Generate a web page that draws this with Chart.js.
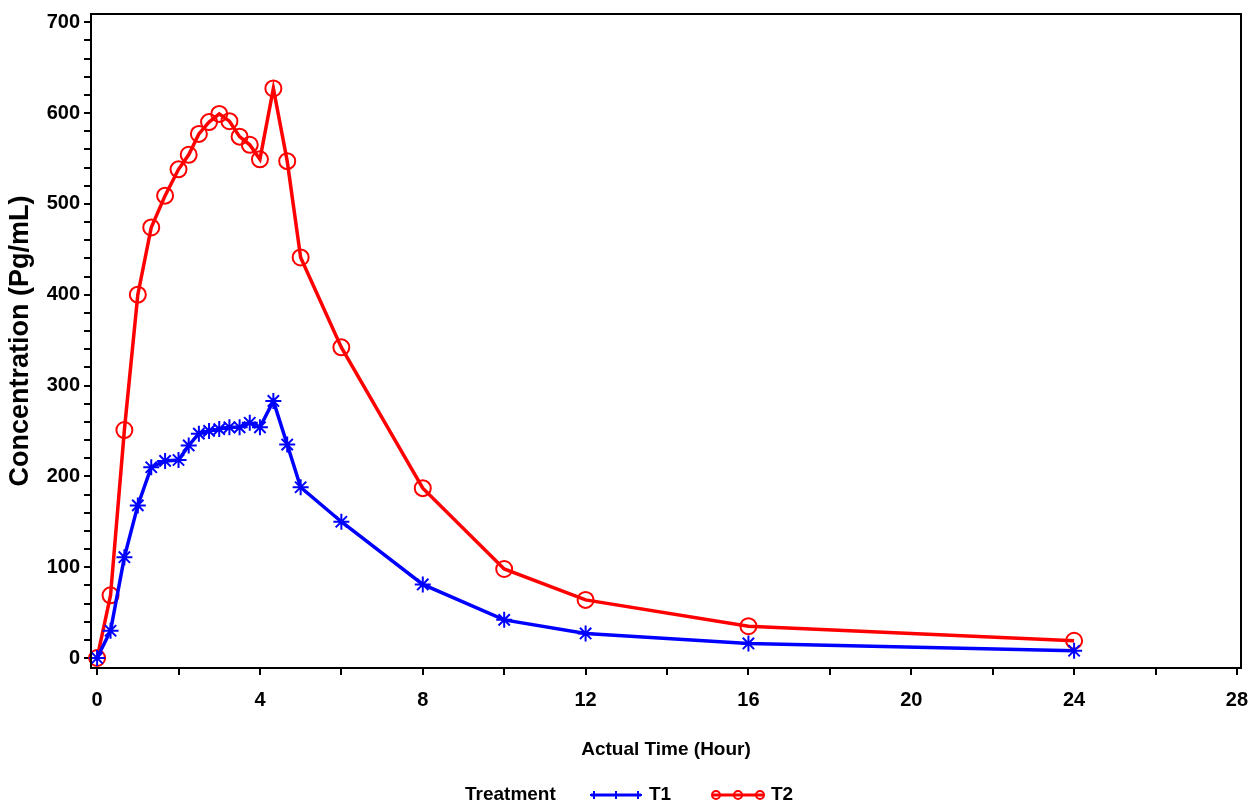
<!DOCTYPE html>
<html>
<head>
<meta charset="utf-8">
<script src="https://cdn.jsdelivr.net/npm/chart.js@4/dist/chart.umd.min.js"></script>
<style>
  html, body { margin: 0; padding: 0; background: #fff; }
  canvas { display: block; }
</style>
</head>
<body>
<canvas id="pkChart" width="1254" height="808"></canvas>
<script>
const times = [0, 0.33, 0.67, 1, 1.33, 1.67, 2, 2.25, 2.5, 2.75, 3, 3.25, 3.5, 3.75, 4, 4.33, 4.67, 5, 6, 8, 10, 12, 16, 24];
const t1Conc = [0, 30, 111, 168, 210, 217, 218, 234, 247, 250, 252, 254, 254, 259, 254, 283, 235, 188, 150, 81, 42, 27, 16, 8];
const t2Conc = [0, 69, 251, 400, 474, 509, 538, 554, 577, 590, 599, 591, 574, 565, 549, 627, 547, 441, 342, 187, 98, 64, 35, 19];
const xTicks = [0, 2, 4, 6, 8, 10, 12, 14, 16, 18, 20, 22, 24, 26, 28];
const yTicks = [0, 20, 40, 60, 80, 100, 120, 140, 160, 180, 200, 220, 240, 260, 280, 300, 320, 340, 360, 380, 400,
                420, 440, 460, 480, 500, 520, 540, 560, 580, 600, 620, 640, 660, 680, 700];
const legendTitle = "Treatment";

const sans = "'Liberation Sans', Arial, sans-serif";

function toPoints(ys) {
    return times.map((t, i) => ({ x: t, y: ys[i] }));
}

// box round the plot area + legend line at the bottom
const framePlugin = {
    id: "frame",
    afterDraw(chart) {
        const ctx = chart.ctx;
        const a = chart.chartArea;
        ctx.save();
        ctx.strokeStyle = "#000";
        ctx.lineWidth = 2;
        ctx.strokeRect(a.left, a.top, a.right - a.left, a.bottom - a.top);

        const y = 795;
        ctx.font = "bold 19px " + sans;
        ctx.fillStyle = "#000";
        ctx.textBaseline = "middle";
        ctx.textAlign = "left";
        ctx.fillText(legendTitle, 465, y);

        const items = [
            { ds: chart.data.datasets[0], x: 591 },
            { ds: chart.data.datasets[1], x: 713 }
        ];
        items.forEach(it => {
            const c = it.ds.borderColor;
            ctx.strokeStyle = c;
            ctx.lineWidth = 3;
            ctx.beginPath();
            ctx.moveTo(it.x, y);
            ctx.lineTo(it.x + 50, y);
            ctx.stroke();
            ctx.lineWidth = 2;
            [3, 25, 47].forEach(dx => {
                const px = it.x + dx;
                ctx.beginPath();
                if (it.ds.pointStyle === "circle") {
                    ctx.arc(px, y, 4, 0, Math.PI * 2);
                } else {
                    ctx.moveTo(px - 4, y); ctx.lineTo(px + 4, y);
                    ctx.moveTo(px, y - 4); ctx.lineTo(px, y + 4);
                }
                ctx.stroke();
            });
            ctx.fillStyle = "#000";
            ctx.fillText(it.ds.label, it.x + 58, y);
        });
        ctx.restore();
    }
};

new Chart(document.getElementById("pkChart"), {
    type: "line",
    data: {
        datasets: [
            {
                label: "T1",
                data: toPoints(t1Conc),
                borderColor: "#0000ff",
                backgroundColor: "#0000ff",
                borderWidth: 3.5,
                pointStyle: "star",
                pointRadius: 8,
                pointBorderWidth: 2,
                pointBorderColor: "#0000ff",
                tension: 0,
                clip: false
            },
            {
                label: "T2",
                data: toPoints(t2Conc),
                borderColor: "#ff0000",
                backgroundColor: "rgba(0,0,0,0)",
                borderWidth: 3.5,
                pointStyle: "circle",
                pointRadius: 8,
                pointBorderWidth: 2,
                pointBorderColor: "#ff0000",
                pointBackgroundColor: "rgba(0,0,0,0)",
                tension: 0,
                clip: false
            }
        ]
    },
    options: {
        responsive: false,
        animation: false,
        layout: { padding: { top: 14, right: 13, bottom: 47, left: 0 } },
        plugins: {
            legend: { display: false },
            tooltip: { enabled: false }
        },
        scales: {
            x: {
                type: "linear",
                min: -0.15,
                max: 28.1,
                afterBuildTicks: s => { s.ticks = xTicks.map(v => ({ value: v })); },
                afterFit: s => { s.height = 93; s.paddingLeft = 0; s.paddingRight = 0; },
                ticks: {
                    color: "#000",
                    padding: 13,
                    maxRotation: 0,
                    autoSkip: false,
                    font: { family: sans, size: 20, weight: "bold" },
                    callback: v => (v % 4 === 0 ? String(v) : "")
                },
                grid: { drawOnChartArea: false, color: "#000", lineWidth: 2, tickLength: 7 },
                border: { display: true, color: "#000", width: 2 },
                title: {
                    display: true,
                    text: "Actual Time (Hour)",
                    color: "#000",
                    padding: { top: 0, bottom: 0 },
                    font: { family: sans, size: 19, weight: "bold" }
                }
            },
            y: {
                type: "linear",
                min: -11,
                max: 709,
                afterBuildTicks: s => { s.ticks = yTicks.map(v => ({ value: v })); },
                afterFit: s => { s.width = 91; s.paddingTop = 0; s.paddingBottom = 0; },
                ticks: {
                    color: "#000",
                    padding: 4,
                    autoSkip: false,
                    font: { family: sans, size: 20, weight: "bold" },
                    callback: v => (v % 100 === 0 ? String(v) : "")
                },
                grid: { drawOnChartArea: false, color: "#000", lineWidth: 2, tickLength: 7 },
                border: { display: true, color: "#000", width: 2 },
                title: {
                    display: true,
                    text: "Concentration (Pg/mL)",
                    color: "#000",
                    padding: { top: 4, bottom: 0 },
                    font: { family: sans, size: 27, weight: "bold" }
                }
            }
        }
    },
    plugins: [framePlugin]
});
</script>
</body>
</html>
